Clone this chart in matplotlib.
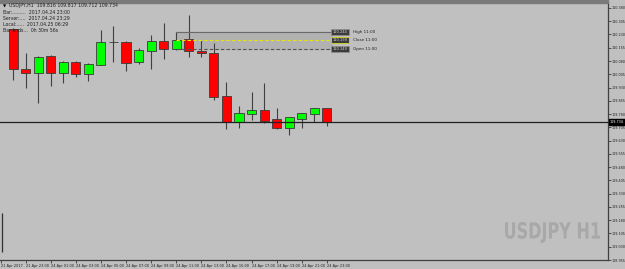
import matplotlib
matplotlib.use("Agg")
import matplotlib.pyplot as plt
import matplotlib.transforms as mtransforms
from matplotlib.textpath import TextPath
from matplotlib.patches import PathPatch
from matplotlib.font_manager import FontProperties
import numpy as np

# USDJPY H1 candles, 21 Apr 22:00 .. 24 Apr 23:00
opens  = [110.261, 110.036, 110.013, 110.109, 110.013, 110.075, 110.008, 110.058,
          110.188, 110.188, 110.075, 110.137, 110.194, 110.149, 110.205, 110.137,
          110.126, 109.884, 109.738, 109.783, 109.800, 109.749, 109.704, 109.754,
          109.783, 109.816]
highs  = [110.267, 110.126, 110.108, 110.115, 110.081, 110.081, 110.070, 110.256,
          110.278, 110.194, 110.154, 110.227, 110.295, 110.244, 110.340, 110.199,
          110.182, 109.963, 109.828, 109.906, 109.957, 109.816, 109.760, 109.788,
          109.816, 109.817]
lows   = [109.974, 109.929, 109.845, 109.940, 109.957, 109.991, 109.968, 110.055,
          110.075, 110.025, 110.064, 110.036, 110.092, 110.143, 110.104, 110.104,
          109.861, 109.693, 109.704, 109.749, 109.732, 109.693, 109.664, 109.704,
          109.738, 109.712]
closes = [110.036, 110.013, 110.104, 110.013, 110.075, 110.008, 110.064, 110.188,
          110.186, 110.070, 110.143, 110.194, 110.149, 110.199, 110.137, 110.126,
          109.878, 109.738, 109.783, 109.800, 109.743, 109.704, 109.760, 109.783,
          109.816, 109.734]

xtick_pos = [-1, 1, 3, 5, 7, 9, 11, 13, 15, 17, 19, 21, 23, 25]
xtick_labels = ["21 Apr 2017", "21 Apr 23:00", "24 Apr 01:00", "24 Apr 03:00",
                "24 Apr 05:00", "24 Apr 07:00", "24 Apr 09:00", "24 Apr 11:00",
                "24 Apr 13:00", "24 Apr 15:00", "24 Apr 17:00", "24 Apr 19:00",
                "24 Apr 21:00", "24 Apr 23:00"]
ytick_vals = [108.955 + 0.075 * k for k in range(20)]

ref_bar = 13           # 11:00 bar
ref_high, ref_close, ref_open = 110.244, 110.199, 110.149
last_price = 109.734

header = ["USDJPY,H1  109.816 109.817 109.712 109.734",
          "Bar:.........  2017.04.24 23:00",
          "Server:....  2017.04.24 23:29",
          "Local:.....  2017.04.25 06:29",
          "Bar ends...  0h 30m 56s"]

bg = "#c0c0c0"
W, H = 625, 269
fig = plt.figure(figsize=(6.25, 2.69), dpi=100, facecolor=bg)
ax = fig.add_axes([0, 9/H, 608/W, 257/H], facecolor=bg)

# top border band
fig.patches.append(plt.Rectangle((0, 1 - 2.5/H), 608/W, 2.5/H,
                                 transform=fig.transFigure, color="#7a7a7a"))

x = np.arange(len(opens))
o = np.array(opens); c = np.array(closes)
up = c >= o
ax.vlines(x, lows, highs, color="#404040", linewidth=0.8, zorder=2)
ax.bar(x, np.abs(c - o) + 0.001, bottom=np.minimum(o, c), width=0.72,
       color=np.where(up, "#00ff00", "#ff0000"), edgecolor="#3a3a3a",
       linewidth=0.6, zorder=3)

# reference levels of the 11:00 bar
xl = ref_bar
xr = 25.4
ax.fill_between([xl, xr], ref_open, ref_high, color="#b2b2b2", zorder=1)
ax.hlines(ref_high, xl, xr, color="#6a6a6a", linewidth=0.8, zorder=4)
ax.hlines(ref_close, xl, xr, color="#e8e800", linewidth=0.8, linestyles=(0, (3, 2)), zorder=4)
ax.hlines(ref_open, xl, xr, color="#505050", linewidth=0.8, linestyles=(0, (3, 2)), zorder=4)
for val, name, ec in [(ref_high, "High 11:00", "#909090"),
                      (ref_close, "Close 11:00", "#e8e800"),
                      (ref_open, "Open 11:00", "#909090")]:
    ax.text(25.45, val, "%.3f" % val, fontsize=2.6, color="#d0d0d0", va="center", ha="left",
            bbox=dict(boxstyle="square,pad=0.35", fc="#3c3c3c", ec=ec, lw=0.5), zorder=5)
    ax.text(27.1, val, name, fontsize=3.0, color="#202020", va="center", ha="left", zorder=5)

# current price line
ax.axhline(last_price, color="#202020", linewidth=0.9, zorder=4)
trans = mtransforms.blended_transform_factory(ax.transAxes, ax.transData)
ax.text(1.003, last_price, "%.3f" % last_price, transform=trans, fontsize=2.4,
        color="white", va="center", ha="left", clip_on=False,
        bbox=dict(boxstyle="square,pad=0.25", fc="black", ec="black"), zorder=6)

ax.set_xlim(-1.04, 47.4)
ax.set_ylim(108.961, 110.408)

for s in ["left", "top"]:
    ax.spines[s].set_visible(False)
for s in ["right", "bottom"]:
    ax.spines[s].set_color("#404040")
    ax.spines[s].set_linewidth(0.9)

ax.yaxis.tick_right()
ax.set_yticks(ytick_vals)
ax.set_yticklabels(["%.3f" % v for v in ytick_vals])
ax.tick_params(axis="y", length=2, width=0.5, pad=0.6, labelsize=2.4, colors="#202020")
ax.set_xticks(xtick_pos)
ax.set_xticklabels(xtick_labels)
ax.tick_params(axis="x", length=2, width=0.5, pad=1, labelsize=2.5, colors="#202020")
for lab in ax.get_xticklabels():
    lab.set_ha("left")

# header info
fig.text(3/W, 1 - 6/H, "\u25bc", fontsize=3, color="black", va="center")
for i, line in enumerate(header):
    fig.text((9 if i == 0 else 3)/W, 1 - (6 + i*6.2)/H, line, fontsize=3.3,
             color="#202020", va="center")

# little marker on the left edge
ax.vlines(-0.85, 109.0, 109.22, color="#303030", linewidth=0.9)

# condensed watermark, stretched into its box (pixels)
wm = TextPath((0, 0), "USDJPY H1", size=1, prop=FontProperties(family="DejaVu Sans", weight="bold"))
ext = wm.get_extents()
x0, x1, y0, y1 = 505, 600, H - 243, H - 222
sx = (x1 - x0) / ext.width
sy = (y1 - y0) / ext.height
tr = mtransforms.Affine2D().translate(-ext.x0, -ext.y0).scale(sx, sy).translate(x0, y0)
fig.add_artist(PathPatch(wm, transform=tr, fc="#a8a8a8", ec="none", zorder=0.5))

fig.savefig("out.png", dpi=100, facecolor=bg)
